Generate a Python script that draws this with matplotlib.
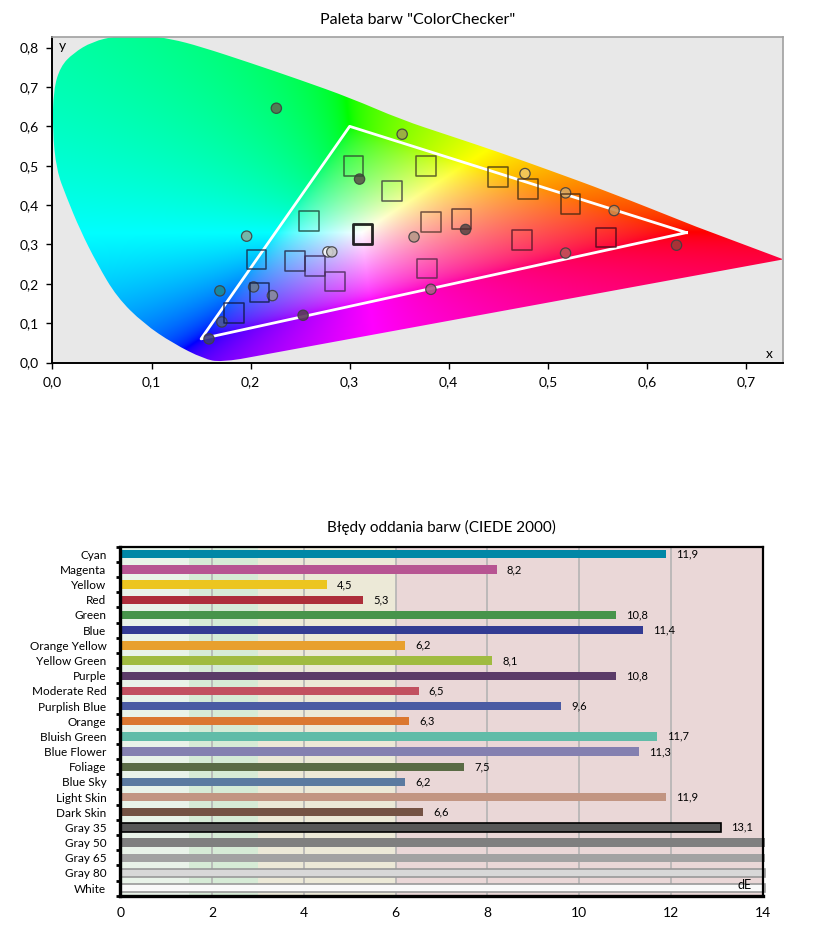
import numpy as np
import matplotlib
matplotlib.use('Agg')
import matplotlib.pyplot as plt
from matplotlib.patches import PathPatch
from matplotlib.path import Path
from matplotlib.ticker import FuncFormatter, MultipleLocator, FixedLocator

plt.rcParams['font.family'] = ['Lato', 'DejaVu Sans']

# ---------------- Data: chromaticity chart ----------------
# outline of the coloured chromaticity area
locus_x = [0.190, 0.170, 0.153, 0.122, 0.092, 0.065, 0.045, 0.028, 0.014, 0.004,
           0.000, 0.001, 0.008, 0.021, 0.040, 0.065, 0.090, 0.120, 0.149, 0.200,
           0.250, 0.301, 0.352, 0.400, 0.450, 0.500, 0.561, 0.650, 0.738]
locus_y = [0.009, 0.001, 0.009, 0.048, 0.099, 0.166, 0.251, 0.336, 0.421, 0.489,
           0.591, 0.693, 0.752, 0.786, 0.815, 0.830, 0.833, 0.822, 0.803, 0.761,
           0.718, 0.672, 0.617, 0.577, 0.535, 0.490, 0.434, 0.345, 0.262]

gamut_x = [0.64, 0.30, 0.15]
gamut_y = [0.33, 0.60, 0.06]

target_x = [0.304, 0.377, 0.343, 0.450, 0.480, 0.523, 0.259, 0.313, 0.382, 0.413,
            0.474, 0.559, 0.378, 0.206, 0.245, 0.265, 0.285, 0.209, 0.183]
target_y = [0.499, 0.499, 0.436, 0.471, 0.441, 0.403, 0.359, 0.326, 0.357, 0.364,
            0.311, 0.318, 0.239, 0.262, 0.258, 0.245, 0.206, 0.178, 0.125]
target_edge = ['#2f4f2f', '#4a4a20', '#404040', '#4a3a10', '#4a3010', '#4a2a10',
               '#204a40', '#000000', '#5a3a30', '#4a2a2a', '#5a1a2a', '#4a0a1a',
               '#5a2a4a', '#1a2a4a', '#2a2a4a', '#3a2a5a', '#4a2a5a', '#10204a', '#101a4a']

measured_x = [0.226, 0.353, 0.310, 0.196, 0.278, 0.282, 0.365, 0.169, 0.203, 0.222,
              0.171, 0.253, 0.158, 0.382, 0.477, 0.518, 0.567, 0.417, 0.518, 0.630]
measured_y = [0.646, 0.580, 0.466, 0.321, 0.281, 0.281, 0.319, 0.182, 0.192, 0.170,
              0.103, 0.120, 0.060, 0.186, 0.480, 0.431, 0.386, 0.338, 0.278, 0.298]
measured_colors = ['#5a7050', '#9ea84a', '#585848', '#80b0a0', '#f8f8f8', '#c8c8c8',
                   '#b89888', '#1a8898', '#6a7a90', '#8a8a9a', '#4a5a9a', '#5a3a5a',
                   '#3a3a80', '#b05888', '#f0c860', '#d8a860', '#d08848', '#604848',
                   '#c05058', '#a03838']

# ---------------- Data: bar chart ----------------
categories = ['Cyan', 'Magenta', 'Yellow', 'Red', 'Green', 'Blue', 'Orange Yellow',
              'Yellow Green', 'Purple', 'Moderate Red', 'Purplish Blue', 'Orange',
              'Bluish Green', 'Blue Flower', 'Foliage', 'Blue Sky', 'Light Skin',
              'Dark Skin', 'Gray 35', 'Gray 50', 'Gray 65', 'Gray 80', 'White']
de_values = [11.9, 8.2, 4.5, 5.3, 10.8, 11.4, 6.2, 8.1, 10.8, 6.5, 9.6, 6.3,
             11.7, 11.3, 7.5, 6.2, 11.9, 6.6, 13.1, 14.05, 14.05, 14.05, 14.05]
bar_colors = ['#0087a6', '#b75492', '#ecc520', '#ad2e3a', '#47944b', '#333b93',
              '#e8a02e', '#a0bb40', '#5b3b68', '#c25060', '#4a5ba3', '#db7730',
              '#60bca8', '#8480b0', '#5a6b45', '#5b7aa0', '#c29582', '#745244',
              '#575757', '#7f7f7f', '#a2a2a2', '#d8d8d8', '#fafafa']
bar_edges = [None] * 18 + ['#000000', None, None, '#999999', '#999999']
band_edges = [0, 1.5, 3, 6, 14]
band_colors = ['#e9f3e9', '#d6ebd6', '#ece9d7', '#ead7d7']

fig = plt.figure(figsize=(8.36, 9.35), dpi=100)

# ---------------- Top chart ----------------
ax1 = fig.add_axes([52.5 / 836, 1 - 362.5 / 935, 730 / 836, 325.5 / 935])
ax1.set_facecolor('#e8e8e8')
ax1.set_xlim(0, 0.737)
ax1.set_ylim(0, 0.827)

N = 600
gx = np.linspace(0, 0.75, N)
gy = np.linspace(0.001, 0.85, N)
GX, GY = np.meshgrid(gx, gy)
X = GX / GY
Y = np.ones_like(GX)
Z = (1 - GX - GY) / GY
M = np.array([[3.2406, -1.5372, -0.4986], [-0.9689, 1.8758, 0.0415], [0.0557, -0.2040, 1.0570]])
rgb = np.stack([M[i, 0] * X + M[i, 1] * Y + M[i, 2] * Z for i in range(3)], axis=-1)
mn = rgb.min(axis=-1, keepdims=True)
rgb = np.where(mn < 0, rgb - mn, rgb)
rgb = rgb / np.maximum(rgb.max(axis=-1, keepdims=True), 1e-9)
rgb = np.power(np.clip(rgb, 0, 1), 1.3)
rgb = np.where(rgb <= 0.0031308, 12.92 * rgb, 1.055 * np.power(rgb, 1 / 2.4) - 0.055)
rgb = np.clip(rgb, 0, 1)

im = ax1.imshow(rgb, origin='lower', extent=[0, 0.75, 0.001, 0.85], aspect='auto',
                interpolation='bilinear', zorder=1)

# smooth outline path through the read points (sharp at the red tip)
pts = np.column_stack([locus_x, locus_y])
verts = [pts[0]]
codes = [Path.MOVETO]
for i in range(1, len(pts) - 2):
    verts += [pts[i], (pts[i] + pts[i + 1]) / 2]
    codes += [Path.CURVE3, Path.CURVE3]
verts += [pts[-2], pts[-1], pts[0]]
codes += [Path.LINETO, Path.LINETO, Path.CLOSEPOLY]
patch = PathPatch(Path(verts, codes), transform=ax1.transData, facecolor='none', edgecolor='none')
ax1.add_patch(patch)
im.set_clip_path(patch)

ax1.plot(gamut_x + [gamut_x[0]], gamut_y + [gamut_y[0]], color='white', lw=2, zorder=3)
ax1.scatter(measured_x, measured_y, s=55, c=measured_colors, edgecolors='#404040',
            linewidths=0.9, zorder=4, alpha=0.9)
lws = [2.0 if c == '#000000' else 1.1 for c in target_edge]
ax1.scatter(target_x, target_y, s=200, marker='s', facecolors='none',
            edgecolors=target_edge, linewidths=lws, zorder=5, alpha=0.85)

ax1.xaxis.set_major_locator(MultipleLocator(0.1))
ax1.yaxis.set_major_locator(MultipleLocator(0.1))
fmt = FuncFormatter(lambda v, p: f'{v:.1f}'.replace('.', ','))
ax1.xaxis.set_major_formatter(fmt)
ax1.yaxis.set_major_formatter(fmt)
ax1.tick_params(labelsize=10, length=4, width=1, color='#000000', pad=6)
for sp in ['left', 'bottom']:
    ax1.spines[sp].set_linewidth(1.4)
    ax1.spines[sp].set_color('#000000')
for sp in ['top', 'right']:
    ax1.spines[sp].set_linewidth(1.2)
    ax1.spines[sp].set_color('#a0a0a0')
ax1.text(0.006, 0.805, 'y', fontsize=10, va='center', ha='left', zorder=6)
ax1.text(0.727, 0.022, 'x', fontsize=10, va='center', ha='right', zorder=6)
fig.text(0.5, 1 - 20 / 935, 'Paleta barw "ColorChecker"', ha='center', va='center', fontsize=11.5)

# ---------------- Bottom chart ----------------
ax2 = fig.add_axes([120.3 / 836, 1 - 895.7 / 935, (762.7 - 120.3) / 836, (895.7 - 546.7) / 935])
ax2.set_xlim(0, 14)
ax2.set_ylim(len(categories) - 0.5, -0.5)
for i in range(len(band_colors)):
    ax2.axvspan(band_edges[i], band_edges[i + 1], color=band_colors[i], zorder=0, lw=0)
for v in range(2, 14, 2):
    ax2.axvline(v, color='#b4b4b4', lw=1.2, zorder=1)

ypos = np.arange(len(categories))
for i, (v, c, e) in enumerate(zip(de_values, bar_colors, bar_edges)):
    ax2.barh(ypos[i], v, height=0.55, color=c, edgecolor=e if e else c,
             linewidth=1.2 if e else 0, zorder=2, clip_on=False)
    if v <= 14:
        ax2.text(v + 0.22, ypos[i], f'{v:.1f}'.replace('.', ','), va='center', ha='left',
                 fontsize=8, zorder=3)

ax2.set_yticks(ypos)
ax2.set_yticklabels(categories, fontsize=8.5)
ax2.tick_params(axis='y', length=0, pad=10)
ax2.yaxis.set_minor_locator(FixedLocator(np.arange(-0.5, len(categories), 1.0)))
ax2.tick_params(axis='y', which='minor', length=3, width=2, color='#000000')
ax2.xaxis.set_major_locator(MultipleLocator(2))
ax2.tick_params(axis='x', labelsize=10, length=0, pad=8)
ax2.spines['left'].set_linewidth(2.4)
ax2.spines['bottom'].set_linewidth(2.4)
ax2.spines['top'].set_linewidth(1.6)
ax2.spines['right'].set_linewidth(1.6)
for sp in ax2.spines.values():
    sp.set_color('#000000')
    sp.set_zorder(5)
ax2.text(13.6, 21.8, 'dE', fontsize=9, ha='center', va='center', zorder=4)
fig.text(120.3 / 836 + (762.7 - 120.3) / 836 / 2, 1 - 527 / 935,
         'Błędy oddania barw (CIEDE 2000)', ha='center', va='center', fontsize=11)

fig.savefig('out.png', dpi=100)
